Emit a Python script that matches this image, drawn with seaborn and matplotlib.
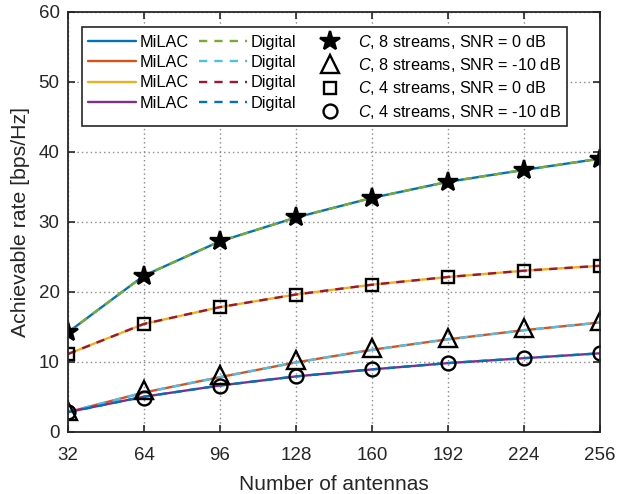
import numpy as np
import pandas as pd
import matplotlib
matplotlib.use("Agg")
import matplotlib.pyplot as plt
import seaborn as sns

antennas = [32, 64, 96, 128, 160, 192, 224, 256]

# MiLAC / Digital curves (they coincide)
rate_8s_0dB = [14.2, 22.3, 27.2, 30.6, 33.4, 35.7, 37.4, 39.0]
rate_8s_m10dB = [2.8, 5.6, 7.8, 9.9, 11.7, 13.2, 14.5, 15.6]
rate_4s_0dB = [11.1, 15.4, 17.8, 19.6, 21.0, 22.1, 23.0, 23.7]
rate_4s_m10dB = [2.8, 5.0, 6.6, 7.9, 8.9, 9.8, 10.5, 11.2]

# Capacity C markers
cap_8s_0dB = [14.2, 22.3, 27.2, 30.7, 33.4, 35.7, 37.4, 39.0]
cap_8s_m10dB = [3.0, 5.9, 8.1, 10.2, 12.0, 13.4, 14.8, 15.8]
cap_4s_0dB = [11.1, 15.4, 17.8, 19.6, 21.0, 22.1, 23.0, 23.7]
cap_4s_m10dB = [2.8, 4.8, 6.5, 7.9, 8.9, 9.8, 10.6, 11.3]

milac_labels = ["MiLAC"] * 4
digital_labels = ["Digital"] * 4
cap_labels = ["$C$, 8 streams, SNR = 0 dB", "$C$, 8 streams, SNR = -10 dB",
              "$C$, 4 streams, SNR = 0 dB", "$C$, 4 streams, SNR = -10 dB"]

sns.set_theme(style="white")
plt.rcParams["font.family"] = ["Liberation Sans", "DejaVu Sans"]
plt.rcParams["mathtext.fontset"] = "custom"
plt.rcParams["mathtext.it"] = "Liberation Sans:italic"
plt.rcParams["mathtext.rm"] = "Liberation Sans"

axc = "#262626"
fig = plt.figure(figsize=(6.28, 4.94), dpi=100)
ax = fig.add_axes([68/628, 1-431.7/494, (600-68)/628, (431.7-11.7)/494])

milac_colors = ["#0072BD", "#D95319", "#EDB120", "#7E2F8E"]
digital_colors = ["#77AC30", "#4DBEEE", "#A2142F", "#0072BD"]
rates = [rate_8s_0dB, rate_8s_m10dB, rate_4s_0dB, rate_4s_m10dB]
caps = [cap_8s_0dB, cap_8s_m10dB, cap_4s_0dB, cap_4s_m10dB]
markers = ["*", "^", "s", "o"]
msizes = [15, 13, 8, 10]
mfcs = ["black", "none", "none", "none"]

h_m, h_d, h_c = [], [], []
for r, c in zip(rates, milac_colors):
    sns.lineplot(x=antennas, y=r, ax=ax, color=c, linewidth=1.7, linestyle="-")
    h_m.append(ax.lines[-1])
for r, c in zip(rates, digital_colors):
    sns.lineplot(x=antennas, y=r, ax=ax, color=c, linewidth=1.7, linestyle=(0, (3.5, 3)))
    h_d.append(ax.lines[-1])
for cp, mk, ms, fc in zip(caps, markers, msizes, mfcs):
    sns.lineplot(x=antennas, y=cp, ax=ax, color="black", linestyle="none", marker=mk,
                 markersize=ms, markerfacecolor=fc, markeredgecolor="black",
                 markeredgewidth=1.7)
    h_c.append(ax.lines[-1])

ax.set_xlim(32, 256)
ax.set_ylim(0, 60)
ax.set_xticks(antennas)
ax.set_yticks(range(0, 61, 10))
ax.grid(True, linestyle=(0, (1, 2.2)), color="#8a8a8a", linewidth=1.0)
for s in ax.spines.values():
    s.set_color(axc)
    s.set_linewidth(1.3)
ax.tick_params(direction="in", length=5, width=1.2, color=axc, labelcolor=axc,
               labelsize=13.5, top=True, right=True, bottom=True, left=True)
ax.tick_params(axis="x", pad=11)
ax.tick_params(axis="y", pad=6)
ax.set_xlabel("Number of antennas", fontsize=15, color=axc, labelpad=8)
ax.set_ylabel("Achievable rate [bps/Hz]", fontsize=15.3, color=axc, labelpad=6)

leg = ax.legend(h_m + h_d + h_c, milac_labels + digital_labels + cap_labels,
                ncol=3, loc="upper left", bbox_to_anchor=(0.027, 0.963),
                borderaxespad=0, fontsize=11.7, handlelength=2.95, handletextpad=0.25,
                columnspacing=0.6, labelspacing=0.32, fancybox=False, framealpha=1,
                edgecolor=axc, borderpad=0.35)
leg.get_frame().set_linewidth(1.2)
for t in leg.get_texts():
    t.set_color("black")

fig.savefig("out.png", dpi=100)
